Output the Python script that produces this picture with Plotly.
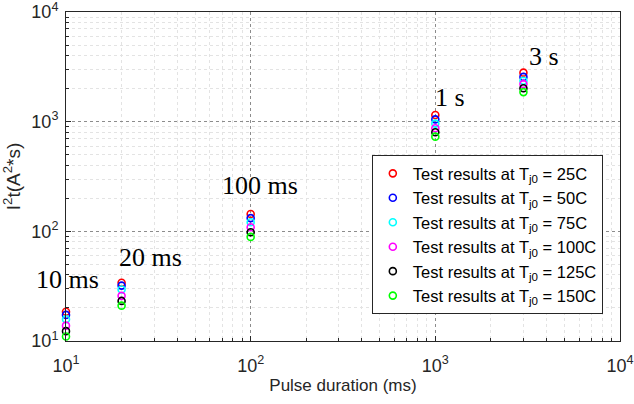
import numpy as np
import plotly.graph_objects as go

# Pulse durations (ms) and measured I^2t values (A^2*s) per junction temperature
pulse_ms = [10, 20, 100, 1000, 3000]
i2t_25C = [18.5, 34.0, 144, 1150, 2800]
i2t_50C = [17.3, 32.0, 132, 1050, 2560]
i2t_75C = [15.8, 29.5, 121, 960, 2360]
i2t_100C = [13.8, 25.8, 109, 870, 2200]
i2t_125C = [12.3, 23.2, 98, 800, 2020]
i2t_150C = [11.0, 21.0, 89, 730, 1860]

temps = ["25C", "50C", "75C", "100C", "125C", "150C"]
series = [i2t_25C, i2t_50C, i2t_75C, i2t_100C, i2t_125C, i2t_150C]
colors = ["#ff0000", "#0000ff", "#00ffff", "#ff00ff", "#000000", "#00ff00"]

# Decade ticks and the 2..9 minor ticks between them
tick_vals = [10, 100, 1000, 10000]
tick_text = ["10<sup>1</sup>", "10<sup>2</sup>", "10<sup>3</sup>", "10<sup>4</sup>"]
minor_vals = [m * d for d in [10, 100, 1000] for m in range(2, 10)]

# Duration labels next to each group (log10 positions)
label_text = ["10 ms", "20 ms", "100 ms", "1 s", "3 s"]
label_x = [1.19, 1.455, 2.05, 3.08, 3.59]
label_anchor = ["right", "center", "center", "center", "center"]
label_y = [1.56, 1.76, 2.42, 3.22, 3.59]

fig = go.Figure()
for t, ys, c in zip(temps, series, colors):
    fig.add_trace(go.Scatter(
        x=pulse_ms, y=ys, mode="markers",
        name=f"Test results at T<sub>j0</sub> = {t}",
        marker=dict(symbol="circle-open", size=7, color=c, line=dict(width=1.6, color=c)),
        cliponaxis=False,
    ))

for txt, lx, ly, xa in zip(label_text, label_x, label_y, label_anchor):
    fig.add_annotation(x=lx, y=ly, xref="x", yref="y", text=txt, showarrow=False,
                       xanchor=xa,
                       font=dict(family="Liberation Serif", size=26, color="black"))

axis_common = dict(
    type="log", showline=True, linecolor="#262626", linewidth=1, mirror=True,
    ticks="inside", ticklen=5, tickcolor="#262626", automargin=False,
    ticklabeloverflow="allow",
    showgrid=True, gridcolor="#8c8c8c", griddash="dot", gridwidth=1,
    tickmode="array", tickvals=tick_vals, ticktext=tick_text, zeroline=False,
    tickfont=dict(family="Liberation Sans", size=18, color="#262626"),
    minor=dict(tickmode="array", tickvals=minor_vals, ticks="inside", ticklen=3,
               tickcolor="#262626", showgrid=True,
               gridcolor="#e3e3e3", griddash="dot", gridwidth=1),
)

fig.update_xaxes(range=[0.99999, 4.00001], ticklabelstandoff=8,
                 title=dict(text="Pulse duration (ms)", standoff=4,
                            font=dict(family="Liberation Sans", size=17, color="#262626")),
                 **axis_common)
fig.update_yaxes(range=[0.99999, 4.00001], ticklabelstandoff=3,
                 title=dict(text="I<sup>2</sup>t(A<sup>2</sup>*s)", standoff=8,
                            font=dict(family="Liberation Sans", size=19, color="#262626")),
                 **axis_common)

fig.update_layout(
    width=634, height=404,
    margin=dict(l=66, r=14, t=12, b=63),
    paper_bgcolor="white", plot_bgcolor="white",
    showlegend=True,
    legend=dict(x=0.969, y=0.565, xanchor="right", yanchor="top",
                bgcolor="white", bordercolor="#262626", borderwidth=1,
                font=dict(family="Liberation Sans", size=16.5, color="black"),
                itemwidth=30, tracegroupgap=0),
)

fig.write_html("out.html")
